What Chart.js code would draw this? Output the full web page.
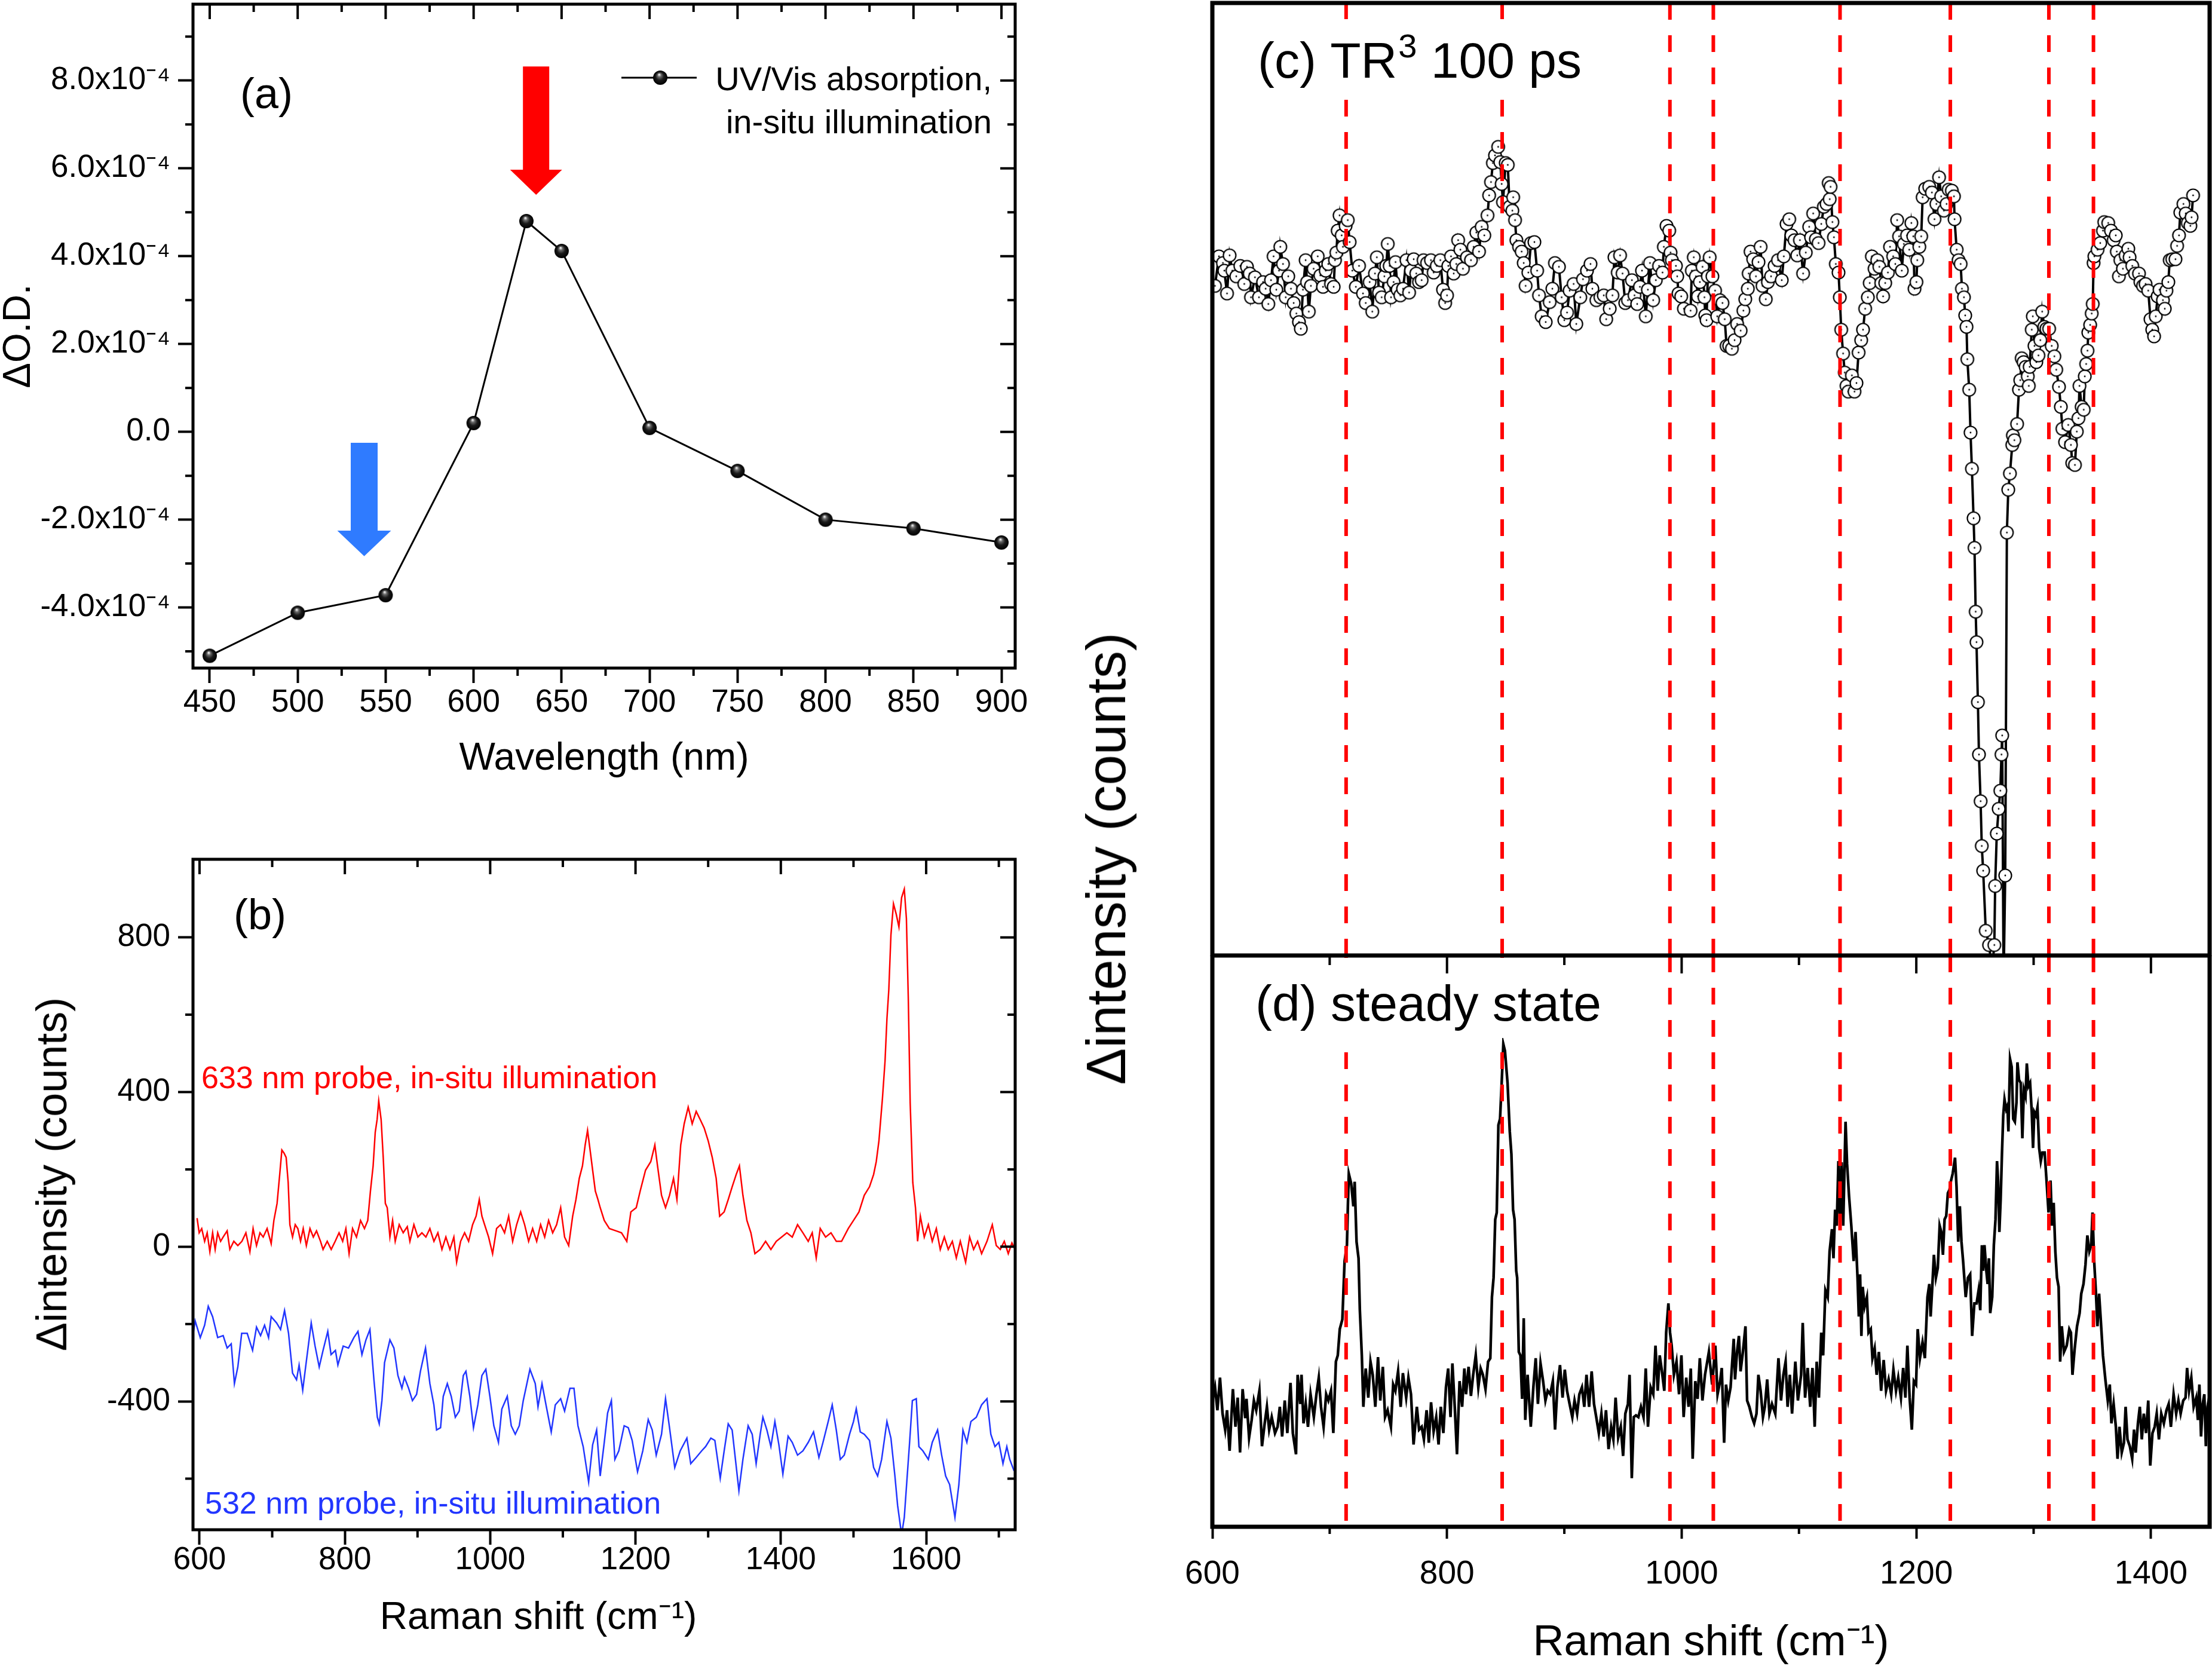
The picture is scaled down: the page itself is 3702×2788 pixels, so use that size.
<!DOCTYPE html>
<html><head><meta charset="utf-8">
<script src="https://cdn.jsdelivr.net/npm/chart.js@4.4.1/dist/chart.umd.min.js"></script>
<style>
html,body{margin:0;padding:0;background:#fff;}
body{width:3702px;height:2788px;position:relative;overflow:hidden;font-family:'Liberation Sans',Arial,sans-serif;}
canvas{position:absolute;}
.lbl{position:absolute;white-space:nowrap;line-height:1;color:#000;font-family:'Liberation Sans',Arial,sans-serif;}
</style></head><body>
<canvas id="ca" width="1760" height="1330" style="left:0px;top:0px"></canvas>
<canvas id="cb" width="1760" height="1408" style="left:0px;top:1380px"></canvas>
<canvas id="cc" width="1942" height="1600" style="left:1760px;top:0px"></canvas>
<canvas id="cd" width="1942" height="1189" style="left:1760px;top:1599px"></canvas>
<div class="lbl" style="font-size:72px;left:86px;top:1965px;transform:translate(-50%,-50%) rotate(-90deg);">&Delta;intensity (counts)</div>
<div class="lbl" style="font-size:64px;left:901px;top:2672px;transform:translateX(-50%);">Raman shift (cm&#8315;&#185;)</div>
<div class="lbl" style="font-size:92px;left:1851px;top:1437px;transform:translate(-50%,-50%) rotate(-90deg);">&Delta;intensity (counts)</div>
<script>
// ---------------- DATA ----------------
// (a) UV/Vis absorption, in-situ illumination
const wavelengthNm = [450, 500, 550, 600, 630, 650, 700, 750, 800, 850, 900];
const deltaOD = [-5.1e-4, -4.12e-4, -3.72e-4, 0.2e-4, 4.8e-4, 4.12e-4, 0.09e-4, -0.89e-4, -2.0e-4, -2.2e-4, -2.52e-4];
const aXTicks = [450, 500, 550, 600, 650, 700, 750, 800, 850, 900];
const aXMinor = [475, 525, 575, 625, 675, 725, 775, 825, 875];
const aYTicks = [-4e-4, -2e-4, 0, 2e-4, 4e-4, 6e-4, 8e-4];
const aYMinor = [-5e-4, -3e-4, -1e-4, 1e-4, 3e-4, 5e-4, 7e-4, 9e-4];

// (b) Raman, [shift cm-1, counts]
const b633 = [[596.6,74],[599.5,36],[603,47],[607,14],[610.5,36],[614.2,-13],[618,36],[621.5,-7],[625,36],[629,14],[632.5,25],[638,41],[641.7,-7],[647.2,14],[652.7,3],[658.3,14],[663.8,36],[669.3,-13],[673.7,47],[678.4,3],[683.2,36],[687.6,25],[693,47],[698.6,8],[702.3,68],[706.7,112],[710.4,188],[713.3,250],[716.3,242],[719.2,231],[722,166],[724.3,57],[728,25],[731.7,57],[735.3,47],[739,14],[742.7,47],[747,3],[752,47],[756.6,25],[761,41],[766.5,14],[770,-7],[775.7,14],[781.2,-7],[786.7,14],[792,36],[797,14],[801.4,47],[805.8,-18],[810.6,47],[816,25],[821.6,68],[827,47],[831.5,68],[835.2,144],[838.9,209],[841.8,296],[844.4,329],[846.6,377],[849.9,329],[852.8,231],[855.7,112],[858.3,101],[862,25],[865.7,68],[869.3,14],[874.8,57],[880.3,36],[885.9,52],[889.5,14],[895,57],[900.5,25],[906,36],[911.5,25],[917,47],[922.6,14],[928,36],[933.6,-7],[939,25],[944.6,-7],[950,25],[953.8,-40],[959.3,14],[964.8,36],[970.3,14],[975.8,57],[980.6,79],[985,122],[988.6,79],[992.3,57],[997.8,25],[1003.3,-18],[1008.8,47],[1014.3,57],[1019.8,36],[1025.4,79],[1030.9,14],[1036.4,57],[1041.9,90],[1047.4,57],[1052.9,14],[1058.4,47],[1064,14],[1069.4,57],[1075,25],[1080.4,68],[1086,36],[1091.4,57],[1097,101],[1102.4,25],[1108,3],[1113.5,79],[1118,122],[1122.6,177],[1127,209],[1130.7,263],[1134,301],[1137.3,253],[1141,198],[1144.7,144],[1148.3,122],[1151.4,101],[1157,68],[1164,47],[1173.4,41],[1180.7,36],[1188,14],[1193.6,90],[1201,101],[1206.4,144],[1213.8,198],[1221,220],[1226.6,263],[1230.3,209],[1235.8,133],[1241.3,101],[1246.8,133],[1252.3,177],[1257,122],[1262.2,263],[1267,318],[1272.5,361],[1278,318],[1283.5,350],[1289,329],[1294.5,307],[1300,274],[1305.6,231],[1311,177],[1315.8,79],[1322,90],[1327.6,122],[1333,155],[1338.6,187],[1343,209],[1347.8,133],[1353.3,68],[1358.8,36],[1364.3,-18],[1371.6,-7],[1379,14],[1386.3,-7],[1393.7,14],[1401,25],[1408.3,36],[1415.7,25],[1423,57],[1430.4,36],[1437.7,14],[1443.2,36],[1448.7,-29],[1454.2,47],[1461.6,25],[1469,36],[1476.3,14],[1483.6,14],[1492.8,47],[1500,68],[1507.5,90],[1514.8,133],[1522,155],[1527.7,187],[1531.3,220],[1535,274],[1539.8,383],[1543.4,480],[1546,589],[1548.6,665],[1551.5,806],[1555,887],[1558.8,860],[1562.5,827],[1566.2,903],[1569.9,925],[1572.8,849],[1575.4,643],[1578,372],[1581.6,166],[1585.3,101],[1588.2,14],[1592,79],[1597.4,25],[1603,57],[1608.4,14],[1614,47],[1619.4,-7],[1625,25],[1630.4,-7],[1636,14],[1641.5,-29],[1647,14],[1654.3,-40],[1659.8,25],[1665.3,-7],[1670.8,14],[1676.3,-18],[1683.7,14],[1691,57],[1696.5,3],[1702,-7],[1707.5,14],[1713,-18],[1718,10],[1722,-5]];
const b532 = [[588.5,-257],[594,-192],[601,-235],[607,-203],[612,-154],[618,-181],[625,-235],[632.5,-230],[638,-262],[643.6,-251],[648,-354],[652.7,-311],[658,-224],[665.6,-224],[673,-268],[678.4,-208],[684,-230],[689.5,-203],[695,-235],[698.6,-181],[706,-197],[711.5,-214],[717,-165],[722.5,-224],[728,-327],[733.5,-344],[737,-306],[742,-371],[746,-311],[753.7,-197],[759,-257],[764.7,-311],[770,-268],[776.5,-219],[781,-279],[787,-268],[790.4,-306],[797.7,-257],[805,-262],[812.4,-235],[818,-219],[823.5,-279],[829,-241],[834.5,-214],[840,-344],[844.7,-441],[847.3,-458],[851,-398],[854.6,-300],[862,-241],[867.5,-262],[873,-333],[878.5,-366],[882,-338],[887.7,-366],[893,-398],[898.7,-382],[904,-322],[911,-262],[917,-354],[922.5,-409],[926.2,-474],[931.7,-468],[935.4,-387],[941,-354],[946.4,-387],[952,-441],[957.4,-425],[963,-333],[966.6,-322],[972,-387],[977,-468],[983,-409],[988.6,-333],[994,-317],[999.6,-387],[1005,-463],[1011.4,-506],[1016,-420],[1023.5,-387],[1029,-463],[1034.5,-485],[1040,-463],[1045.5,-398],[1054.7,-317],[1062,-354],[1065.8,-414],[1071.3,-354],[1076.8,-409],[1084,-479],[1089.6,-409],[1097,-393],[1102.4,-425],[1109.8,-366],[1115.3,-366],[1120.8,-463],[1128,-517],[1135.5,-609],[1141,-512],[1146.5,-474],[1151.4,-593],[1157,-506],[1161.6,-430],[1166.8,-398],[1171.6,-550],[1177,-528],[1184.4,-463],[1190,-468],[1195.4,-501],[1202.8,-582],[1210,-528],[1217.5,-447],[1223,-474],[1228.5,-539],[1235.8,-485],[1241.3,-393],[1246.8,-468],[1254,-571],[1261.5,-528],[1270.7,-495],[1276,-561],[1283.5,-545],[1291,-528],[1296.4,-517],[1303.7,-495],[1309.2,-501],[1316.6,-599],[1322,-528],[1327.6,-458],[1333,-474],[1342.3,-631],[1347.8,-550],[1355,-463],[1360.6,-485],[1366,-561],[1371.6,-485],[1375.3,-441],[1380.8,-474],[1386.3,-517],[1391.8,-452],[1397.3,-512],[1402.8,-588],[1410,-490],[1415.7,-506],[1423,-539],[1430.4,-528],[1437.7,-506],[1445,-479],[1452.4,-545],[1458,-506],[1465.2,-452],[1470.7,-409],[1476.3,-474],[1481.8,-550],[1487.3,-539],[1494.6,-485],[1500,-452],[1503.8,-419],[1509.3,-479],[1514.8,-485],[1522,-501],[1527.7,-571],[1533.2,-593],[1538.7,-550],[1546,-452],[1551.5,-495],[1557,-593],[1560.7,-669],[1566.2,-745],[1569.9,-700],[1573.5,-604],[1577.2,-506],[1581,-398],[1586.4,-393],[1590,-517],[1595.5,-528],[1603,-550],[1608.4,-506],[1615.7,-474],[1621.3,-539],[1626.8,-593],[1632.3,-615],[1639.6,-700],[1645,-615],[1650.6,-474],[1656,-506],[1661.6,-452],[1669,-441],[1676.3,-409],[1683.7,-393],[1689,-485],[1694.7,-517],[1700,-506],[1705.7,-561],[1711,-517],[1715,-550],[1721,-580]];
const bXTicks = [600, 800, 1000, 1200, 1400, 1600];
const bXMinor = [700, 900, 1100, 1300, 1500, 1700];
const bYTicks = [-400, 0, 400, 800];
const bYMinor = [-600, -200, 200, 600];

// (c) TR3 100 ps, [shift cm-1, intensity (arb.)]
const cTR3 = [[602.2,70.3],[605.6,73.4],[609,72.7],[610.2,71.9],[612.5,69.5],[614.7,73.5],[617,71.9],[620.4,71.3],[623.8,72.4],[627.2,70.5],[629.5,72.3],[631.8,71.6],[632.9,69.1],[636.3,71.2],[639.7,69.1],[643.2,70.7],[645.4,70],[647.7,68.4],[650,70.9],[652.2,73.4],[654.5,69.9],[656.8,71.9],[657.9,74.4],[660.2,72.6],[662.5,69.1],[664.7,71.3],[667,70],[669.3,68.5],[671.6,67.4],[673.8,66.5],[675.4,65.8],[677.2,69.9],[679.5,73],[680.7,70.7],[682.2,67.6],[684,70.3],[686.3,72.1],[689.8,73.4],[692,71.4],[694.3,70.2],[696.6,71.9],[698.8,72.6],[701.1,70.5],[703.4,70.2],[704.5,73],[705.7,73.8],[706.8,76.1],[708.4,77.7],[710.2,75.6],[711.3,74.4],[713.6,76.6],[715.4,77.2],[717,74.9],[719.3,71.9],[722.3,70.2],[725,72.4],[728.4,69.5],[730.7,68.5],[734.1,70.7],[736.3,67.6],[738.6,71.6],[740.2,73.3],[742,69.6],[744.3,69.1],[746.6,71.3],[748.2,72.4],[749.5,74.7],[751.1,72.4],[752.3,69.1],[754.5,70.7],[756.1,72.8],[757.9,69.9],[760.2,69.3],[762.5,70],[765.4,73],[767.7,69.6],[769.3,71.9],[771.6,73.1],[773.8,71.6],[776.1,70.7],[778.4,70.9],[780,73],[783,72.7],[786.3,73],[788.6,71.7],[791.3,72.4],[794.3,73],[796.6,69.9],[798.4,68.5],[800,69.3],[801.1,72.4],[803.4,73.4],[805.7,71.6],[807.9,72.6],[809.5,75.1],[811.4,74.1],[813.6,72.1],[817,73.3],[820.4,73],[822.7,74.4],[825,75.9],[827.3,73.9],[829.5,76.5],[831.8,75.6],[834.5,77.7],[835.9,79.8],[837.5,81.2],[839.1,83.2],[840.9,84],[843.6,84.9],[845.4,83.3],[846.6,81],[847.7,79.1],[850,83.2],[851.8,83],[853.4,78.6],[855.7,78.2],[856.4,79.6],[858,77.2],[859.1,75.1],[861.4,74.4],[863.6,73.9],[865.4,72.7],[867,70.3],[869.3,71.7],[871.6,74.8],[874.5,74.9],[876.8,71.9],[878.4,69.3],[880.7,67.1],[884.1,66.5],[887.5,68.6],[889.8,70],[892,72.7],[895.4,72.3],[897.7,69.1],[900,66.7],[902.3,67.5],[904.5,69.8],[907.9,70.5],[910.2,66.3],[913.6,69.1],[915.9,71],[919.3,71.9],[922.3,72.6],[923.9,70],[927.3,68.8],[930.7,69.1],[933.6,69.3],[935.7,66.8],[938.7,67.9],[941,69.3],[942.7,73.3],[945.5,71.7],[947.5,73.5],[949.6,71.6],[951.9,68.5],[954.2,68.8],[957.6,70.9],[959.8,69.3],[962.1,68.4],[964.4,70.2],[966.2,71.9],[969.4,67.1],[971.2,69.9],[973,72.7],[975.7,68.8],[978,70.9],[980.7,72.4],[983.7,71.7],[984.8,74.4],[987.1,76.6],[989.4,76.1],[990.5,73.8],[991.7,73],[995.1,72.4],[996.2,71.3],[997.3,69.5],[999.6,69.2],[1001.9,67.9],[1007.6,67.7],[1008.7,71.9],[1010.3,73.3],[1012.1,71.3],[1013.9,69.2],[1015.5,70.7],[1017.8,72.3],[1019.4,69.1],[1020.1,67.2],[1021.2,66.7],[1022.3,71.3],[1023.9,73.3],[1026.2,71.3],[1028.5,69.8],[1030.3,67.1],[1032.6,68.8],[1034.8,68.5],[1036.7,66.8],[1038.3,64],[1040.5,64],[1042.8,63.7],[1045.1,64.6],[1047.3,66.3],[1050.3,65.6],[1052.6,67.7],[1054.2,68.9],[1056.4,70],[1057.1,71.6],[1058.7,73.9],[1061,73.1],[1063.3,71.3],[1065.5,72.8],[1067.3,74.4],[1068.9,70.3],[1071.7,68.9],[1073.5,70.7],[1076.2,71.3],[1079.2,72.4],[1082.1,73],[1085.3,70.9],[1087.1,73.4],[1089.4,76.8],[1091.7,77.3],[1093.5,75.6],[1096.2,75.1],[1098.5,73.5],[1100.8,75.1],[1103.5,71.6],[1105.8,73.8],[1108.7,76.5],[1110.3,75.4],[1112.1,77.9],[1114.4,75.2],[1116.7,74.8],[1119,76.8],[1121.2,78.6],[1123.5,78.9],[1125.3,81.1],[1126.2,79.4],[1126.9,80.7],[1128.5,77],[1129.8,75.4],[1131.4,72.6],[1133.7,71.7],[1134.8,69.1],[1136,65.7],[1137.6,63.2],[1139,61.2],[1140.5,59.8],[1142.1,59.2],[1145.1,60.9],[1147.3,59.2],[1149,60.1],[1150.8,63.3],[1153,64.6],[1154.6,65.7],[1156.4,67.9],[1158.7,69.1],[1160.3,70.6],[1162.1,73.4],[1164.4,72.1],[1166.7,73],[1168.5,72.3],[1170.1,70.6],[1171.7,69.2],[1173.5,70.6],[1175.8,71.7],[1177.6,74.4],[1180.3,73.4],[1182.1,72.6],[1183.7,77.2],[1185.3,75.5],[1187.6,71.9],[1189.4,74.7],[1192.1,75.6],[1194,74.1],[1195.8,76.9],[1197.4,75.5],[1198.5,70],[1200.1,70.7],[1200.8,73],[1202.6,74.4],[1204.2,75.5],[1205.4,79.6],[1207.6,80.5],[1211,80.7],[1213.3,80.1],[1215.5,77.3],[1217.1,78.9],[1219.4,81.7],[1221.2,79.7],[1223.5,78.2],[1225.8,78.9],[1227.6,80.4],[1230.3,80.3],[1232.1,79.7],[1232.6,77.3],[1234.4,74.1],[1236,73],[1237.8,72.6],[1238.9,70],[1240.6,69.1],[1241.7,67.2],[1242.8,66],[1243.5,62.6],[1245.1,59.4],[1246.2,54.9],[1247.4,51.1],[1248.8,45.9],[1249.6,42.8],[1250.6,36.1],[1251.3,32.9],[1252.5,26.6],[1253.4,21.1],[1254.8,16.2],[1255.8,11.5],[1257,8.9],[1259.2,2.6],[1262,1.1],[1264.5,-1.5],[1266.5,1.1],[1267.2,7.3],[1268.6,12.8],[1270.2,15.4],[1271.6,17.3],[1272.6,21.1],[1273.2,23.1],[1274.4,-3],[1275.8,8.4],[1277.2,44.4],[1278.4,48.9],[1279.8,50.6],[1281.8,53.6],[1282.3,54.6],[1283.6,54.1],[1285.9,55.8],[1287.5,59.4],[1288.6,60.4],[1289.8,62.7],[1291.4,62.3],[1293.2,61.8],[1295,60.8],[1295.9,59.8],[1296.6,61.8],[1298.4,65.7],[1299.3,67.1],[1300.7,64],[1302.3,62.3],[1304.1,63],[1305.7,64.6],[1307.3,67.6],[1309.1,66],[1310.9,65.8],[1313.2,65.8],[1315.4,64],[1317.7,62.9],[1319.3,61.5],[1321.6,59.7],[1323.2,57.6],[1324.5,55.3],[1326.8,53.9],[1329.5,55.7],[1331.8,53.6],[1332.9,51.7],[1335.2,51.5],[1336.8,55],[1338.2,56.4],[1339.1,59.8],[1340.9,57.6],[1342.7,57.3],[1343.6,60.8],[1344.8,62.1],[1345.9,63.5],[1346.6,65.4],[1348.2,66.2],[1349.5,67.4],[1350.4,68.4],[1351.1,72.7],[1351.8,73.4],[1354.5,74.1],[1356.8,74.8],[1359.1,76.1],[1360.2,77],[1363.6,76.9],[1365.9,76.1],[1368.2,75.1],[1370,75.6],[1370.9,73.9],[1372.7,71.3],[1373.9,73],[1376.1,72.1],[1378.4,73.5],[1380.7,74.2],[1381.8,73.3],[1384.1,72.4],[1386.4,71.6],[1389.8,71.6],[1391,70.7],[1393.2,70.3],[1395.4,70.5],[1397.7,69.8],[1399.6,66.8],[1401.1,65.7],[1402.7,65],[1404.1,67.1],[1405.7,69.2],[1407.3,69.9],[1410.2,68.8],[1411.8,67.9],[1413.2,69.8],[1414.8,70.7],[1416,73],[1418.2,73.1],[1420.9,73.1],[1422.3,74.5],[1423.9,75.6],[1425,78],[1427.7,78.9],[1429.6,77.9],[1431.4,76.9],[1433.6,76.6],[1434.6,77.5],[1435.9,79.8]];

// (d) steady state, [shift cm-1, intensity (arb.)]
const dSteady = [[600,22],[602.3,24.4],[604.3,20.4],[606.5,26.1],[608.7,19.8],[610.9,17],[612.5,20.4],[614.7,13.3],[617.5,24.1],[619.7,17.5],[621.6,22.6],[623.6,13],[625.8,24.1],[628,19],[629.1,22.4],[631.3,15.6],[633.5,18.7],[635.4,22.1],[637.4,20.4],[640.1,23.8],[642.3,14.1],[644.6,18.1],[646.5,21],[648.4,17],[650.6,19.2],[653.4,16.4],[655.6,17.5],[657.5,21],[659.5,15.8],[661.7,22.1],[663.9,16.4],[666.6,25.2],[668.6,16.4],[671.3,12.7],[672.7,26.6],[674.9,21.5],[676,26.6],[677.7,18.1],[679.6,21.5],[681.5,17.5],[683.7,23.2],[686.5,19.2],[688.7,23.2],[690.7,26.1],[692.6,21],[694.8,17.5],[697,23.2],[698.9,22.1],[701.1,23.8],[703.1,16.4],[705.3,28.9],[706.9,30],[708.6,34.6],[710.8,36.3],[712.7,46.5],[714.7,49.3],[715.5,56.1],[716.3,61.8],[718.3,60.1],[720.2,56.1],[721.3,60.4],[722.9,49.9],[724.6,47],[725.7,38],[727.4,30],[728.7,21],[730.7,27.7],[732.9,22.6],[734.8,28.9],[736.7,26.6],[738.9,21],[741.2,29.7],[743.1,22.1],[745.3,28],[747.2,19.2],[749.4,20.4],[752.2,17.5],[754.1,24.9],[756,23.8],[758.3,27.2],[760.5,21],[762.4,26.9],[765.2,22.6],[767.1,26.1],[769.3,23.2],[771.5,14.4],[774.3,21],[776.2,17],[778.4,17.5],[780.3,15.3],[782.6,20.4],[784.5,14.7],[786.4,21.8],[788.6,16.7],[790.8,19.2],[792.8,14.4],[794.7,21],[796.9,16.4],[799.1,24.4],[801,27.7],[803,19.2],[804.6,28.6],[806.6,21],[808.5,12.7],[810.7,25.5],[812.9,21],[814.8,27.7],[816.2,23.2],[818.4,28],[820.4,22.9],[822.3,26.6],[824.5,30],[826.7,24.4],[828.7,27.7],[830.6,26.6],[832.8,24.1],[835,28.9],[836.9,29.5],[838.3,40.2],[839.7,43.6],[841.1,53.8],[842.4,55],[843.8,70.3],[845.2,71.4],[846.6,77.7],[848,84.5],[849.4,83.3],[851.6,77.7],[853.5,69.2],[854.9,65.2],[856.3,55.5],[857.6,53.8],[859,44.8],[859.8,43.6],[861.2,30.6],[862.6,30],[864,22.4],[865.4,36.5],[866.7,18.7],[868.7,26.6],[871.4,17.5],[873.6,24.4],[875.6,29.5],[877.5,21.5],[879.7,28.6],[881.9,25.5],[883.9,22.1],[885.8,23.8],[888,23.2],[890.2,25.5],[892.1,17],[894.1,24.4],[896.3,28.3],[898.5,22.6],[900.4,27.5],[902.3,23.8],[904.5,21.5],[906.8,19.2],[908.7,22.1],[910.9,19.8],[912.8,23.2],[915,24.4],[917,21],[918.9,26.6],[921.1,21],[923.3,27.2],[925.3,21.5],[927.2,19.2],[929.4,16.4],[931.6,19.8],[933.5,15.8],[935.5,20.4],[937.7,13.6],[939.9,17.5],[941.8,15.3],[943.7,22.6],[945.9,15.6],[948.1,17.5],[950.1,12.4],[952,19.8],[954.2,21.5],[955.6,26.6],[957.5,8.5],[959.2,19.2],[961.1,19.5],[963.1,19.2],[965.3,21],[967.5,19.2],[969.4,27.7],[971.3,17.5],[973.6,24.4],[975.8,23.2],[977.7,31.7],[979.6,23.8],[981.3,30],[983.2,27.2],[985.2,23.8],[986.8,34],[988.7,39.1],[990.1,34],[991.5,31.7],[993.4,26.6],[995.6,28.9],[997.8,23.2],[999.8,30],[1001.7,19.2],[1003.9,26.1],[1005.9,21],[1007.8,27.7],[1009.4,11.9],[1011.6,25.5],[1013.6,22.4],[1015.5,29.5],[1017.7,22.1],[1019.9,26.6],[1023.2,30.6],[1026,24.9],[1028.7,31.7],[1030.6,23.2],[1032.8,25.5],[1034.2,27.8],[1036.2,14.7],[1037.8,24.9],[1039.7,22.1],[1041.7,24.4],[1044.4,32.9],[1045.5,25.8],[1047.2,30.6],[1048.8,33.4],[1050.2,27.2],[1052.2,30.6],[1054.4,35.1],[1055.8,22.1],[1057.7,21],[1059.9,19.2],[1061.8,18.1],[1063.8,19.8],[1065.4,26.6],[1067.3,23.8],[1069.3,19.2],[1070.9,21],[1072.9,25.8],[1074.8,19.8],[1077,21.5],[1079.8,19.8],[1082.5,29.5],[1084.7,22.1],[1086.7,26.6],[1088.6,28.9],[1090.3,21],[1092.2,26.6],[1094.1,19.8],[1096.9,28.9],[1099.1,22.1],[1101.8,26.6],[1103.2,35.7],[1105.2,22.6],[1107.4,27.8],[1109.6,21],[1111.5,27.8],[1113.4,17.5],[1115.1,28.9],[1117,22.6],[1119,34],[1120.6,30],[1122.5,41.4],[1124.5,40.2],[1126.1,48.2],[1128.1,52.1],[1129.4,47],[1130.8,55.5],[1132.2,52.7],[1133.6,64],[1135,53.8],[1136.3,63.8],[1137.7,52.7],[1139.7,70.9],[1141,63.5],[1142.7,57.8],[1144.6,52.7],[1146.6,46.5],[1148.2,51.6],[1149.9,43.6],[1151,36.8],[1152.1,44.2],[1153.2,33.4],[1154.3,42],[1155.9,38.5],[1157.9,40.2],[1159.3,34],[1161.2,34.6],[1162.6,29.5],[1164.5,31.2],[1166.2,26.6],[1168.1,30.6],[1170,23.8],[1172.2,29.2],[1174.2,23.8],[1176.4,25.8],[1178.6,23.2],[1180.5,27.5],[1182.7,23.8],[1184.6,26.1],[1186.9,22.6],[1188.8,27.8],[1190.7,22.6],[1192.4,31.7],[1194.3,22.6],[1196.2,17],[1197.9,25.5],[1199.8,24.9],[1201.2,34.6],[1203.1,29.5],[1205.3,32.3],[1207.3,29.5],[1209.5,40.2],[1211.1,42.5],[1212.2,36.8],[1213.6,41.9],[1215,47.6],[1216.7,43.6],[1218.3,45.3],[1219.9,52.7],[1221.3,51.6],[1222.7,47.6],[1224.1,53.8],[1225.5,54.4],[1226.9,58.4],[1228.3,59],[1229.6,60.6],[1231,61.8],[1233,64.6],[1234.3,59.5],[1235.7,49.9],[1237.1,56.1],[1238.5,49.9],[1239.9,46.5],[1242.1,40.2],[1244,43.6],[1245.9,44.2],[1247.6,33.4],[1249.5,39.1],[1251.4,39.1],[1253.1,41.4],[1254.5,37.9],[1255.9,49.3],[1257,44.8],[1258.1,49.3],[1259.7,44.8],[1260.8,42.5],[1261.9,47],[1263,37.4],[1264.7,40.2],[1266.1,49.3],[1267.5,53.8],[1268.8,64],[1269.7,60.6],[1270.8,51.6],[1271.9,57.3],[1273,65.2],[1274.1,72],[1275.2,74.8],[1276.6,73.1],[1277.7,73.7],[1278.5,69.2],[1279.9,81.9],[1281.3,80.5],[1282.6,71.4],[1284,70.9],[1285.4,74.3],[1286.2,81.3],[1287.6,78.2],[1289,77.7],[1290.4,68],[1291.7,76.5],[1293.1,75.4],[1294.2,81.1],[1295.6,77.1],[1297,77.7],[1298.4,72.6],[1299.5,66.3],[1300.6,72.6],[1302,72],[1303.3,73.4],[1304.7,66.3],[1306.1,64],[1307.5,65.5],[1309.4,65.5],[1311,60.6],[1312.7,55],[1314.4,60.6],[1315.7,52.7],[1317.1,56.7],[1318.5,48.2],[1319.9,43.6],[1321.3,42],[1322.6,28.9],[1324,35.1],[1325.9,30.6],[1328.2,31.7],[1330.4,34.6],[1331.8,34],[1333.1,26.6],[1335,31.2],[1337,35.1],[1339.2,37.4],[1340.6,40.8],[1342.5,42.5],[1344.2,45.9],[1345.8,51],[1347.5,48.2],[1349.1,49.3],[1350.2,55],[1351.6,46.5],[1353,41.4],[1354.4,35.1],[1355.8,40.8],[1357.2,36.3],[1359.1,30],[1361.3,25.5],[1363.2,22.1],[1364.9,24.9],[1366.3,18.1],[1368.2,21.5],[1370.1,17.5],[1371.5,11.9],[1373.2,17.5],[1375.1,13],[1377,14.7],[1378.4,21],[1380,15.3],[1382,14.1],[1384,11.9],[1385.6,17],[1387,13],[1388.9,18.1],[1390.5,21],[1392.2,15.3],[1393.9,19.8],[1395.8,16.4],[1397.7,22.1],[1399.4,10.7],[1401.3,16.4],[1403.2,17.5],[1404.9,19.8],[1406.8,15.3],[1408.8,19.8],[1411,18.1],[1413.2,20.4],[1415.1,21.5],[1417,17.5],[1419.3,23.2],[1421.5,19.8],[1423.4,22.1],[1425.3,19.8],[1427.5,22.1],[1429.5,22.6],[1430.8,27.8],[1432.5,23.8],[1434.4,26.1],[1436.4,21],[1438.6,22.6],[1440,18.7],[1441.3,24.9],[1442.7,15.8],[1444.1,21.5],[1445.5,23.2],[1446.8,14.1],[1448.2,21],[1449.6,22.6]];
const cdXTicks = [600, 800, 1000, 1200, 1400];
const cdXMinor = [700, 900, 1100, 1300];
const redLineShifts = [714, 847, 990, 1027, 1135, 1229, 1313, 1351];

// ---------------- RENDERING ----------------
const FONT = "'Liberation Sans', Arial, sans-serif";
Chart.defaults.font.family = FONT;
Chart.defaults.color = '#000';

const ball = (() => { const r = 12, c = document.createElement('canvas'); c.width = c.height = 2 * r + 2; const g = c.getContext('2d'); const m = r + 1;
  const gr = g.createRadialGradient(m - r * 0.15, m - r * 0.45, r * 0.05, m, m, r);
  gr.addColorStop(0, '#f0f0f0'); gr.addColorStop(0.22, '#6a6a6a'); gr.addColorStop(0.55, '#1a1a1a'); gr.addColorStop(1, '#000');
  g.fillStyle = gr; g.beginPath(); g.arc(m, m, r, 0, 2 * Math.PI); g.fill(); return c; })();
const ring = (() => { const r = 10.5, c = document.createElement('canvas'); c.width = c.height = 26; const g = c.getContext('2d'); const m = 13;
  g.beginPath(); g.arc(m, m, r, 0, 2 * Math.PI); g.fillStyle = '#fff'; g.fill(); g.lineWidth = 2.2; g.strokeStyle = '#000'; g.stroke();
  g.beginPath(); g.arc(m, m, 1.4, 0, 2 * Math.PI); g.fillStyle = '#000'; g.fill(); return c; })();

const pts = arr => arr.map(([x, y]) => ({x, y}));
const setTicks = vals => (s => { s.ticks = vals.map(v => ({value: v})); });
const fitH = h => (s => { s.height = h; s.paddingLeft = 0; s.paddingRight = 0; });
const fitW = w => (s => { s.width = w; s.paddingTop = 0; s.paddingBottom = 0; });

function drawTicks(chart, specs) {
  const ctx = chart.ctx, a = chart.chartArea;
  ctx.save(); ctx.strokeStyle = '#000'; ctx.lineCap = 'butt';
  for (const s of specs) {
    const sc = chart.scales[s.axis];
    ctx.lineWidth = s.width; ctx.beginPath();
    for (const v of s.values) {
      const p = sc.getPixelForValue(v);
      if (s.edge === 'bottom') { ctx.moveTo(p, a.bottom); ctx.lineTo(p, a.bottom + (s.inward ? -s.len : s.len)); }
      else if (s.edge === 'top') { ctx.moveTo(p, a.top); ctx.lineTo(p, a.top + (s.inward ? s.len : -s.len)); }
      else if (s.edge === 'left') { ctx.moveTo(a.left, p); ctx.lineTo(a.left + (s.inward ? s.len : -s.len), p); }
      else { ctx.moveTo(a.right, p); ctx.lineTo(a.right + (s.inward ? -s.len : s.len), p); }
    }
    ctx.stroke();
  }
  ctx.restore();
}
function drawFrame(chart, w) { const ctx = chart.ctx, a = chart.chartArea; ctx.save(); ctx.strokeStyle = '#000'; ctx.lineWidth = w; ctx.strokeRect(a.left, a.top, a.right - a.left, a.bottom - a.top); ctx.restore(); }
function txt(ctx, s, x, y, size, color, align) { ctx.save(); ctx.font = size + 'px ' + FONT; ctx.fillStyle = color || '#000'; ctx.textAlign = align || 'left'; ctx.textBaseline = 'alphabetic'; ctx.fillText(s, x, y); ctx.restore(); }
function arrow(chart, xv, topV, baseV, tipV, sh, hh, color) {
  const ctx = chart.ctx, x = chart.scales.x.getPixelForValue(xv), Y = v => chart.scales.y.getPixelForValue(v);
  const yT = Y(topV), yB = Y(baseV), yP = Y(tipV);
  ctx.save(); ctx.fillStyle = color; ctx.beginPath();
  ctx.moveTo(x - sh, yT); ctx.lineTo(x + sh, yT); ctx.lineTo(x + sh, yB); ctx.lineTo(x + hh, yB); ctx.lineTo(x, yP); ctx.lineTo(x - hh, yB); ctx.lineTo(x - sh, yB); ctx.closePath(); ctx.fill(); ctx.restore();
}
const tickGrid = len => ({drawOnChartArea: false, drawTicks: true, tickLength: len, tickWidth: 4, tickColor: '#000', color: '#000'});
const baseOpts = {responsive: false, animation: false, devicePixelRatio: 1, events: [], plugins: {legend: {display: false}, tooltip: {enabled: false}}};

// ---- (a)
new Chart(document.getElementById('ca'), {
  type: 'line',
  data: {datasets: [{data: pts(wavelengthNm.map((w, i) => [w, deltaOD[i]])), borderColor: '#000', borderWidth: 3, pointStyle: ball, pointRadius: 12, tension: 0}]},
  options: Object.assign({}, baseOpts, {
    layout: {autoPadding: false, padding: {left: 0, top: 7, right: 61, bottom: 28}},
    scales: {
      x: {type: 'linear', min: 440.5, max: 907.8, afterBuildTicks: setTicks(aXTicks), afterFit: fitH(1330 - 28 - 1118),
        grid: tickGrid(25), border: {display: false},
        ticks: {autoSkip: false, maxRotation: 0, padding: 7, font: {size: 53, lineHeight: 1}, callback: v => String(v)},
        title: {display: true, text: 'Wavelength (nm)', font: {size: 64, lineHeight: 1}, padding: {top: 0, bottom: 0}}},
      y: {type: 'linear', min: -5.38e-4, max: 9.74e-4, afterBuildTicks: setTicks(aYTicks), afterFit: fitW(323),
        grid: tickGrid(25), border: {display: false},
        ticks: {autoSkip: false, padding: 13, font: {size: 53, lineHeight: 1},
          callback: v => Math.abs(v) < 1e-12 ? '0.0' : (v * 1e4).toFixed(1) + 'x10\u207B\u2074'},
        title: {display: true, text: '\u0394O.D.', font: {size: 64, lineHeight: 1}, padding: {top: 0, bottom: 0}}}
    }
  }),
  plugins: [{id: 'decoA', afterDatasetsDraw(chart) {
    const ctx = chart.ctx;
    arrow(chart, 635.5, 8.32e-4, 5.97e-4, 5.40e-4, 22, 43.5, '#ff0000');
    arrow(chart, 537.8, -0.25e-4, -2.25e-4, -2.83e-4, 22.5, 45, '#2f7bff');
    drawFrame(chart, 5);
    drawTicks(chart, [
      {axis: 'x', edge: 'bottom', values: aXMinor, len: 13, width: 4},
      {axis: 'x', edge: 'top', inward: true, values: aXTicks, len: 25, width: 4},
      {axis: 'x', edge: 'top', inward: true, values: aXMinor, len: 13, width: 4},
      {axis: 'y', edge: 'left', values: aYMinor, len: 13, width: 4},
      {axis: 'y', edge: 'right', inward: true, values: aYTicks, len: 25, width: 4},
      {axis: 'y', edge: 'right', inward: true, values: aYMinor, len: 13, width: 4}]);
    txt(ctx, '(a)', 402, 181, 72);
    ctx.save(); ctx.strokeStyle = '#000'; ctx.lineWidth = 3; ctx.beginPath(); ctx.moveTo(1040, 130); ctx.lineTo(1166, 130); ctx.stroke(); ctx.restore();
    ctx.drawImage(ball, 1105 - ball.width / 2, 130 - ball.height / 2);
    txt(ctx, 'UV/Vis absorption,', 1660, 151, 56, '#000', 'right');
    txt(ctx, 'in-situ illumination', 1660, 223, 56, '#000', 'right');
  }}]
});

// ---- (b)
new Chart(document.getElementById('cb'), {
  type: 'line',
  data: {datasets: [
    {data: pts(b633), borderColor: '#ff0000', borderWidth: 2.5, pointRadius: 0, tension: 0},
    {data: pts(b532), borderColor: '#2236ff', borderWidth: 2.5, pointRadius: 0, tension: 0}]},
  options: Object.assign({}, baseOpts, {
    layout: {autoPadding: false, padding: {left: 0, top: 58, right: 61, bottom: 0}},
    scales: {
      x: {type: 'linear', min: 591, max: 1722.5, afterBuildTicks: setTicks(bXTicks), afterFit: fitH(1408 - 1180),
        grid: tickGrid(25), border: {display: false},
        ticks: {autoSkip: false, maxRotation: 0, padding: 0, font: {size: 53, lineHeight: 1}, callback: v => String(v)}},
      y: {type: 'linear', min: -732, max: 1002, afterBuildTicks: setTicks(bYTicks), afterFit: fitW(323),
        grid: tickGrid(25), border: {display: false},
        ticks: {autoSkip: false, padding: 13, font: {size: 53, lineHeight: 1}, callback: v => String(v)}}
    }
  }),
  plugins: [{id: 'decoB', afterDatasetsDraw(chart) {
    const ctx = chart.ctx;
    drawFrame(chart, 5);
    drawTicks(chart, [
      {axis: 'x', edge: 'bottom', values: bXMinor, len: 13, width: 4},
      {axis: 'x', edge: 'top', inward: true, values: bXTicks, len: 25, width: 4},
      {axis: 'x', edge: 'top', inward: true, values: bXMinor, len: 13, width: 4},
      {axis: 'y', edge: 'left', values: bYMinor, len: 13, width: 4},
      {axis: 'y', edge: 'right', inward: true, values: bYTicks, len: 25, width: 4},
      {axis: 'y', edge: 'right', inward: true, values: bYMinor, len: 13, width: 4}]);
    txt(ctx, '(b)', 391, 175, 72);
    txt(ctx, '633 nm probe, in-situ illumination', 337, 441, 52, '#ff0000');
    txt(ctx, '532 nm probe, in-situ illumination', 343, 1153, 52, '#2236ff');
  }}]
});

// dashed marker lines for (c) and (d)
const dashSets = () => redLineShifts.map(v => ({data: [{x: v, y: 100}, {x: v, y: 0}], borderColor: '#ff0000', borderWidth: 6, borderDash: [28, 26], pointRadius: 0, order: 0}));

// ---- (c)
new Chart(document.getElementById('cc'), {
  type: 'line',
  data: {datasets: [{data: pts(cTR3), borderColor: '#000', borderWidth: 4, pointStyle: ring, pointRadius: 10, tension: 0, order: 1}].concat(dashSets())},
  options: Object.assign({}, baseOpts, {
    layout: {autoPadding: false, padding: {left: 269, top: 5, right: 4, bottom: 1}},
    scales: {x: {type: 'linear', min: 600, max: 1450, display: false}, y: {type: 'linear', min: 0, max: 100, display: false}}
  }),
  plugins: [{id: 'decoC', afterDatasetsDraw(chart) {
    const ctx = chart.ctx;
    ctx.save(); ctx.fillStyle = '#fff'; ctx.fillRect(330, 32, 580, 130); ctx.restore();
    drawFrame(chart, 7);
    ctx.save(); ctx.font = '84px ' + FONT; ctx.fillStyle = '#000'; ctx.textBaseline = 'alphabetic';
    let x = 345; const y = 130;
    ctx.fillText('(c) TR', x, y); x += ctx.measureText('(c) TR').width + 2;
    ctx.font = '56px ' + FONT; ctx.fillText('3', x, y - 34); x += ctx.measureText('3').width;
    ctx.font = '84px ' + FONT; ctx.fillText(' 100 ps', x, y); ctx.restore();
  }}]
});

// ---- (d)
new Chart(document.getElementById('cd'), {
  type: 'line',
  data: {datasets: [{data: pts(dSteady), borderColor: '#000', borderWidth: 4.5, pointRadius: 0, tension: 0, order: 1}].concat(dashSets())},
  options: Object.assign({}, baseOpts, {
    layout: {autoPadding: false, padding: {left: 269, top: 0, right: 4, bottom: 2}},
    scales: {
      x: {type: 'linear', min: 600, max: 1450, afterBuildTicks: setTicks(cdXTicks), afterFit: fitH(1189 - 2 - 956),
        grid: tickGrid(20), border: {display: false},
        ticks: {autoSkip: false, maxRotation: 0, padding: 32, font: {size: 55, lineHeight: 1}, callback: v => String(v)},
        title: {display: true, text: 'Raman shift (cm\u207B\u00B9)', font: {size: 72, lineHeight: 1}, padding: {top: 0, bottom: 0}}},
      y: {type: 'linear', min: 0, max: 100, display: false}
    }
  }),
  plugins: [{id: 'decoD', afterDatasetsDraw(chart) {
    const ctx = chart.ctx;
    ctx.save(); ctx.fillStyle = '#fff'; ctx.fillRect(330, 4, 600, 134); ctx.restore();
    drawFrame(chart, 7);
    drawTicks(chart, [
      {axis: 'x', edge: 'bottom', values: cdXMinor, len: 12, width: 4},
      {axis: 'x', edge: 'top', inward: true, values: cdXTicks, len: 30, width: 4},
      {axis: 'x', edge: 'top', inward: true, values: cdXMinor, len: 16, width: 4}]);
    txt(ctx, '(d) steady state', 341, 109, 84);
  }}]
});
</script>
</body></html>
